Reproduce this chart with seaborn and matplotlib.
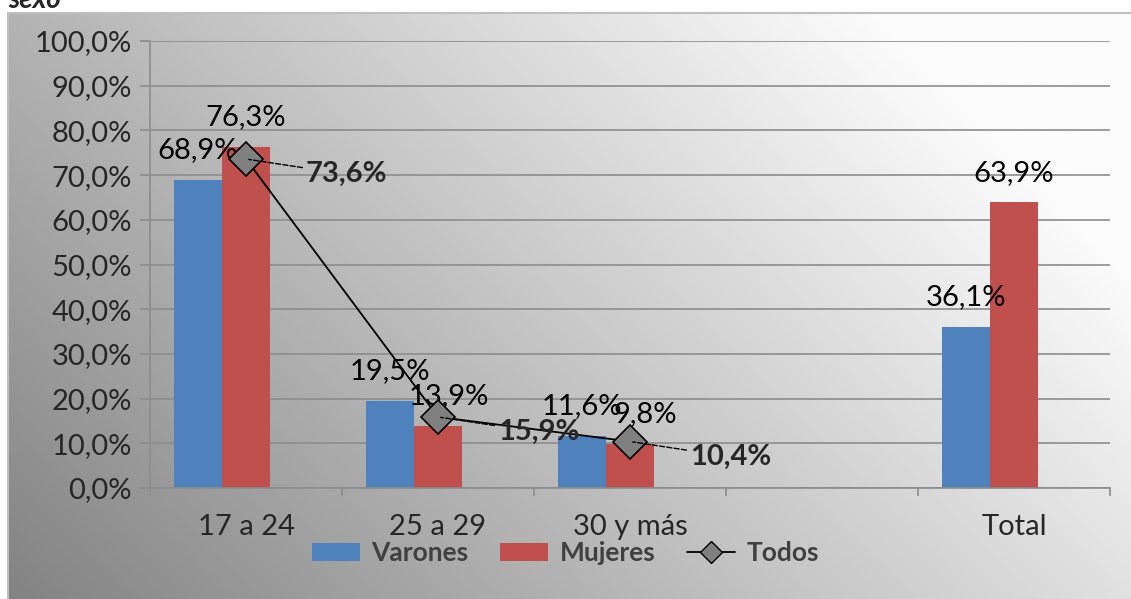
import numpy as np
import pandas as pd
import matplotlib
matplotlib.use("Agg")
import matplotlib.pyplot as plt
import seaborn as sns
from matplotlib.patches import Patch
from matplotlib.lines import Line2D

# Data
categories = ["17 a 24", "25 a 29", "30 y más", "", "Total"]
varones = [68.9, 19.5, 11.6, np.nan, 36.1]
mujeres = [76.3, 13.9, 9.8, np.nan, 63.9]
todos_cats = ["17 a 24", "25 a 29", "30 y más"]
todos = [73.6, 15.9, 10.4]
yticks = list(range(0, 101, 10))
series = ["Varones", "Mujeres", "_hueco"]

blue = "#4F81BD"
red = "#C0504D"
grid_gray = "#8c8c8c"
fs = 21

# small sideways shifts (points) that Excel applied to crowded labels
label_nudge = {("Mujeres", 1): 8, ("Mujeres", 2): 11}


def pct(v):
    return f"{v:.1f}%".replace(".", ",")


# long-form table; a third empty series keeps Excel's 3-slot dodge
df = pd.DataFrame({
    "grupo": categories * 3,
    "serie": ["Varones"] * 5 + ["Mujeres"] * 5 + ["_hueco"] * 5,
    "valor": varones + mujeres + [np.nan] * 5,
})

sns.set_style("white")
plt.rcParams["font.family"] = ["Lato", "DejaVu Sans"]
plt.rcParams["font.size"] = fs

W, H = 1131, 599
fig = plt.figure(figsize=(W / 100, H / 100), dpi=100, facecolor="white")

# gradient chart background (dark bottom-left -> light top-right)
bg = fig.add_axes([8 / W, 0, 1 - 8 / W, 1 - 13 / H], zorder=0)
u = np.linspace(0, 1, 400)[None, :]
v = np.linspace(1, 0, 300)[:, None]
t = np.clip(0.78 * u + 0.40 * v, 0, 1)
bg.imshow(t, cmap=sns.blend_palette(["#838383", "#fbfbfb"], as_cmap=True),
          aspect="auto", extent=[0, 1, 0, 1], vmin=0, vmax=1)
bg.set_xticks([])
bg.set_yticks([])
for s in ["right", "bottom"]:
    bg.spines[s].set_visible(False)
for s in ["top", "left"]:
    bg.spines[s].set_color("#bfbfbf")
    bg.spines[s].set_linewidth(1.5)

ax = fig.add_axes([150 / W, 1 - 488 / H, 960 / W, 447 / H], zorder=1)
ax.patch.set_alpha(0)

sns.barplot(data=df, x="grupo", y="valor", hue="serie", order=categories,
            hue_order=series,
            palette={"Varones": blue, "Mujeres": red, "_hueco": "none"},
            width=0.75, errorbar=None, legend=False, saturation=1,
            linewidth=0, ax=ax)

for name, cont in zip(series, ax.containers):
    for bar in cont:
        h = bar.get_height()
        if np.isnan(h) or h == 0:
            continue
        xc = bar.get_x() + bar.get_width() / 2
        dx = label_nudge.get((name, int(round(xc))), 0)
        ax.annotate(pct(h), (xc, h),
                    xytext=(dx, 12), textcoords="offset points",
                    ha="center", va="bottom", fontsize=fs, color="black")

xpos = [categories.index(c) for c in todos_cats]
sns.lineplot(x=xpos, y=todos, color="black", linewidth=1.3, marker="D",
             markersize=17, markerfacecolor="#808080", markeredgecolor="black",
             markeredgewidth=1.2, ax=ax, legend=False, zorder=5)

for xp, val in zip(xpos, todos):
    ax.annotate(pct(val), (xp, val), xytext=(43, -11), textcoords="offset points",
                ha="left", va="center", fontsize=fs, fontweight="bold",
                arrowprops=dict(arrowstyle="-", linestyle="--", color="black",
                                lw=1, shrinkA=0, shrinkB=2), zorder=6)

ax.set_ylim(0, 100)
ax.set_xlim(-0.5, len(categories) - 0.5)
ax.set_yticks(yticks)
ax.set_yticklabels([pct(v) for v in yticks])
ax.set_xticks(range(len(categories)))
ax.set_xticklabels(categories)
ax.set_xticks(np.arange(-0.5, len(categories), 1), minor=True)
ax.tick_params(axis="y", left=True, length=7, width=1.2, color=grid_gray,
               pad=6, labelsize=fs)
ax.tick_params(axis="x", which="major", bottom=True, length=0, pad=19, labelsize=fs)
ax.tick_params(axis="x", which="minor", bottom=True, length=6, width=1.2,
               color=grid_gray)
ax.set_xlabel("")
ax.set_ylabel("")
ax.yaxis.grid(True, color=grid_gray, linewidth=1.2)
ax.set_axisbelow(True)
for s in ["top", "right"]:
    ax.spines[s].set_visible(False)
for s in ["left", "bottom"]:
    ax.spines[s].set_color(grid_gray)
    ax.spines[s].set_linewidth(1.2)

handles = [
    Patch(facecolor=blue, edgecolor="none"),
    Patch(facecolor=red, edgecolor="none"),
    Line2D([], [], color="black", linewidth=1.3, marker="D", markersize=11,
           markerfacecolor="#808080", markeredgecolor="black"),
]
fig.legend(handles, ["Varones", "Mujeres", "Todos"], loc="center",
           bbox_to_anchor=(0.5, 1 - 553 / H), ncol=3, frameon=False,
           prop={"weight": "bold", "size": 19}, labelcolor="#404040",
           handlelength=1.8, handleheight=0.65, handletextpad=0.45,
           columnspacing=1.2)

fig.text(8 / W, 1 - 8 / H, "sexo", fontsize=20, fontweight="bold",
         fontstyle="italic", va="baseline", ha="left")

fig.savefig("out.png", dpi=100, facecolor="white")
